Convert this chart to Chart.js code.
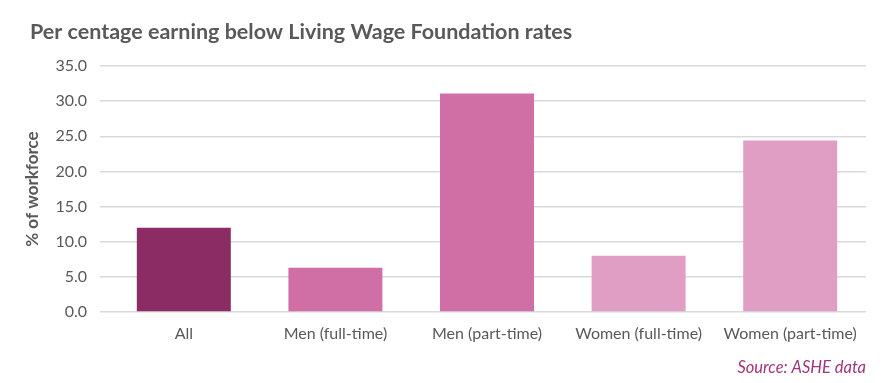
<!DOCTYPE html>
<html>
<head>
<meta charset="utf-8">
<script src="https://cdn.jsdelivr.net/npm/chart.js@4"></script>
<style>
    body { margin: 0; background: #fff; }
    #wrap { width: 891px; height: 383px; }
</style>
</head>
<body>
<div id="wrap"><canvas id="myChart"></canvas></div>
<script>
const categories = ["All", "Men (full-time)", "Men (part-time)", "Women (full-time)", "Women (part-time)"];
const values = [12.0, 6.3, 31.1, 8.0, 24.4];
const barColors = ["#8b2d64", "#d06ea6", "#d06ea6", "#e09ec4", "#e09ec4"];
const yTicks = [0, 5, 10, 15, 20, 25, 30, 35];

const grey = "#595959";
const font = "Lato, 'Open Sans', sans-serif";
const titleText = "Per centage earning below Living Wage Foundation rates";

// title sits further right than chart.js' own title would put it
const titlePlugin = {
    id: "leftTitle",
    afterDraw(c) {
        const ctx = c.ctx;
        ctx.save();
        ctx.fillStyle = grey;
        ctx.font = "bold 21.5px " + font;
        ctx.textBaseline = "middle";
        ctx.textAlign = "left";
        ctx.fillText(titleText, 30, 32);
        ctx.restore();
    }
};

const chart = document.getElementById('myChart').getContext('2d');

let myChart = new Chart(chart, {
    type: "bar",
    data: {
        labels: categories,
        datasets: [
            {
                label: "% of workforce",
                data: values,
                backgroundColor: barColors,
                barPercentage: 0.62,
                categoryPercentage: 1,
            }
        ],
    },
    plugins: [titlePlugin],
    options: {
        responsive: true,
        maintainAspectRatio: false,
        animation: false,
        layout: {
            padding: { left: 22, right: 25, top: 66, bottom: 5 },
        },
        plugins: {
            legend: { display: false },
            tooltip: { enabled: false },
            title: { display: false },
            subtitle: {
                display: true,
                position: "bottom",
                text: "Source: ASHE data",
                align: "end",
                color: "#a0357a",
                font: { family: font, size: 16.5, style: "italic" },
                padding: { top: 11, bottom: 0 },
            },
        },
        scales: {
            x: {
                grid: { display: false },
                border: { display: false },
                ticks: {
                    color: grey,
                    font: { family: font, size: 16 },
                    padding: 4,
                },
            },
            y: {
                min: 0,
                max: 35,
                afterBuildTicks: (axis) => {
                    axis.ticks = yTicks.map(v => ({ value: v }));
                },
                grid: { color: "#d9d9d9", lineWidth: 1.5 },
                border: { display: false },
                ticks: {
                    color: grey,
                    font: { family: font, size: 16 },
                    padding: 13,
                    callback: (v) => Number(v).toFixed(1),
                },
                title: {
                    display: true,
                    text: "% of workforce",
                    color: grey,
                    font: { family: font, size: 17, weight: "bold" },
                    padding: 0,
                },
            },
        },
    },
});
</script>
</body>
</html>
